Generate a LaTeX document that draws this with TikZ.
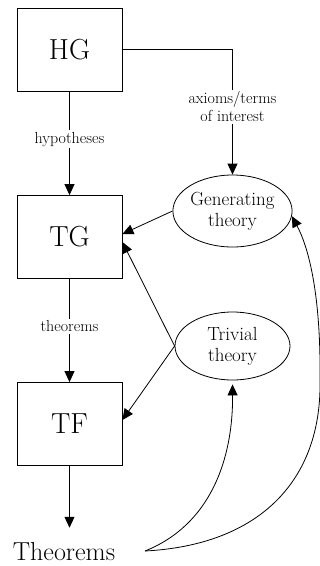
\documentclass[tikz,border=0pt]{standalone}
\usepackage{fontspec}
\usetikzlibrary{arrows.meta,shapes.geometric,calc}
\begin{document}
\begin{tikzpicture}[x=1pt,y=-1pt,
  box/.style={draw,line width=0.8pt,minimum width=105pt,minimum height=83pt,inner sep=0pt,font=\fontsize{29}{32}\selectfont},
  ell/.style={draw,line width=0.8pt,ellipse,inner sep=0pt,align=center,font=\fontsize{19}{21}\selectfont},
  conn/.style={line width=0.8pt,-{Triangle[length=11pt,width=10pt]}},
  lbl/.style={fill=white,inner sep=2pt,align=center,font=\fontsize{16}{18}\selectfont}]
\useasboundingbox (0,0) rectangle (320,566);
\node[box] (HG) at (69.5,49.5) {HG};
\node[box] (TG) at (69.5,237) {TG};
\node[box] (TF) at (69.5,424) {TF};
\node[ell,minimum width=115pt,minimum height=72pt] (G) at (232.5,211) {Generating\\theory};
\node[ell,minimum width=115pt,minimum height=68pt] (T) at (232.5,346) {Trivial\\theory};
\node[inner sep=0pt,anchor=base,font=\fontsize{26}{30}\selectfont] (Th) at (64,560) {Theorems};
\coordinate (ts) at (145,551);

\draw[conn] (HG.south) -- node[lbl,pos=0.46] {hypotheses} (TG.north);
\draw[conn] (TG.south) -- node[lbl,pos=0.46] {theorems} (TF.north);
\draw[conn,shorten >=14pt] (TF.south) -- (TF.south |- Th.north);
\draw[conn] (HG.east) -| node[lbl,pos=0.73] {axioms/terms\\of interest} (G.north);
\draw[conn] (G.west) -- ($(TG.east)+(0,-3)$);
\draw[conn] (T.west) -- ($(TG.east)+(0,5)$);
\draw[conn] (T.west) -- ($(TF.east)+(0,-4)$);
\draw[conn,shorten >=4pt] (ts) .. controls (210,525) and (233,460) .. (T.south);
\draw[conn] (ts) .. controls (260,545) and (322,480) .. (320,380)
  .. controls (321,300) and (310,250) .. (G.-5);
\end{tikzpicture}
\end{document}
